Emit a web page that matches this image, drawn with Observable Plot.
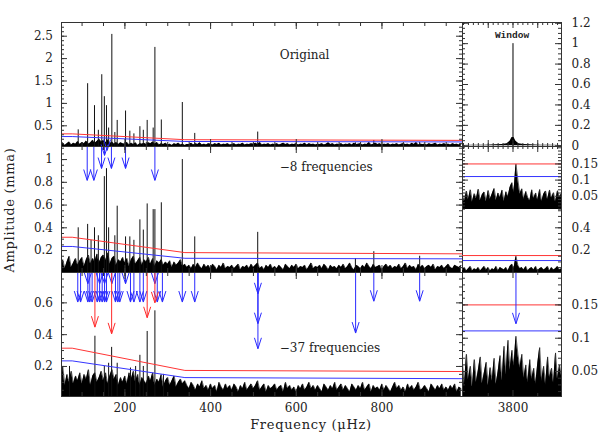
<!DOCTYPE html>
<html><head><meta charset="utf-8">
<script src="https://cdn.jsdelivr.net/npm/d3@7"></script>
<script src="https://cdn.jsdelivr.net/npm/@observablehq/plot@0.6"></script>
<style>
html,body{margin:0;padding:0;background:#fff;}
#fig{position:relative;width:598px;height:447px;overflow:hidden;background:#fff;}
#fig svg{position:absolute;overflow:visible;background:transparent;max-width:none;}
g[aria-label="panel-title"] text{letter-spacing:0.7px;}
</style></head><body><div id="fig"></div>
<script>
// ---------- data ----------
const leftFreq = [52, 988];          // µHz, left panels
const rightFreq = [3749, 3849];      // µHz, right panels

// noise profiles (left panels: start 50 µHz, step 5 µHz, units 0.01 mma)
const noiseTop = [8,12,6,10,14,7,11,9,15,8, 13,10,16,9,12,18,11,15,20,14, 17,12,19,10,14,9,13,8,12,10, 9,13,7,11,8,12,6,10,9,11, 8,12,10,14,9,13,7,10,8,11, 7,9,6,10,8,11,7,9,6,8,
 8,11,7,10,8,12,7,9,7,10, 9,7,10,8,11,7,9,8,10,7, 8,10,7,9,8,11,7,9,8,10, 9,11,8,13,7,9,8,10,7,9, 8,10,7,9,11,8,10,7,9,8, 10,7,9,8,11,7,10,8,9,7, 9,8,10,7,9,12,8,10,7,9,
 8,10,7,9,8,10,7,11,8,9, 10,7,9,8,13,7,9,11,8,10, 7,9,8,10,7,9,8,10,7,9, 10,8,9,7,11,8,13,7,9,8, 9,7,10,8,9,11,7,9,8,10, 8,9,7,10,8,9,7,10];
const noiseMid = [6,12,4,10,15,5,9,13,7,11, 14,6,12,16,8,13,10,17,9,14, 16,11,18,8,13,15,7,12,10,14, 9,13,6,12,15,8,11,14,7,12, 10,14,8,13,6,11,9,12,7,10, 8,11,5,10,7,9,12,6,8,5,
 7,4,8,5,9,6,4,8,5,7, 4,8,6,3,7,5,9,4,6,5, 7,4,6,8,3,6,5,7,4,8, 5,7,9,4,6,3,7,5,8,4, 6,4,7,5,3,8,6,4,7,5, 8,4,6,5,7,3,6,9,4,6, 5,7,4,8,6,3,7,5,6,4,
 7,5,8,4,6,9,5,3,7,6, 4,7,5,9,6,4,8,5,6,7, 3,6,8,5,7,4,6,5,8,4, 6,9,4,7,5,6,3,8,5,7, 4,6,7,5,8,3,6,5,7,4, 6,8,5,4,7,6,5,7];
const noiseBot = [12,20,8,15,10,17,9,14,11,16, 9,15,12,18,8,14,16,10,13,17, 11,16,9,14,18,12,15,8,13,10, 14,9,16,12,17,10,15,8,13,11, 9,14,11,16,8,12,10,15,7,11, 13,8,11,14,7,10,12,9,11,8,
 6,10,8,5,9,7,11,6,8,5, 9,6,8,4,10,7,5,9,6,8, 5,9,7,4,8,6,10,5,7,9, 6,8,11,5,7,9,4,8,6,7, 9,5,7,8,4,10,6,8,5,7, 4,8,6,9,5,7,10,6,8,5, 8,6,4,9,7,5,8,6,10,5,
 7,9,5,8,6,4,9,7,5,8, 6,10,5,7,9,4,8,6,7,5, 9,5,8,6,4,7,10,6,8,5, 7,4,9,6,8,5,7,10,5,6, 8,6,4,9,7,5,8,6,9,5, 7,5,8,6,9,4,7,6];

// right panels noise (start 3749 µHz, step 2 µHz)
const noiseInset = [52,34,66,40,70,32,58,42,72,36, 55,63,33,68,41,57,74,37,60,45, 69,34,64,48,77,92,62,150,100,56, 73,40,65,46,35,70,42,60,38,71, 33,56,66,39,69,44,61,32,67,47, 58]; // 0.001 mma
const noiseMidRight = [3,5,2,4,6,2,4,3,5,2, 4,6,3,5,2,4,3,6,2,5, 4,3,5,2,6,8,4,15,7,4, 5,3,6,2,4,5,3,6,2,4, 5,3,4,6,2,5,3,4,6,3, 4]; // 0.01 mma
const noiseBotRight = [62,30,76,38,58,27,68,34,52,72, 32,48,64,29,56,36,70,31,50,74, 36,88,45,97,52,82,58,103,76,55, 76,40,60,33,68,38,55,31,62,86, 35,58,30,72,40,55,33,78,38,60, 44]; // 0.001 mma

// window function
const windowFreq = [3749,3760,3772,3782,3789,3794,3797,3799,3800,3801,3803,3806,3811,3818,3828,3838,3849];
const windowAmp  = [0.004,0.006,0.005,0.01,0.012,0.02,0.045,0.08,0.08,0.08,0.045,0.02,0.012,0.01,0.005,0.006,0.004];
const windowPeak = [[3800, 1.0]];

// peaks [frequency µHz, amplitude mma]
const peaksTop = [[91,0.41],[113,1.44],[129,0.95],[138,0.40],[146,1.64],[152,1.15],[157,0.95],[162,0.45],[169.5,2.54],[176.5,0.35],[182,0.62],[201.5,0.83],[211.5,0.38],[221,0.32],[235,0.48],[243,0.40],[252,0.62],[266,0.45],[270,2.25],[285,0.63],[334,1.02],[363,0.33],[510,0.36],[738,0.12],[781,0.17],[888,0.13]];
const peaksMid = [[91,0.40],[113,0.43],[121,0.29],[129,0.40],[138,0.33],[152,0.85],[157,0.92],[162,0.40],[176.5,0.33],[182,0.59],[201.5,0.32],[211.5,0.32],[221,0.29],[235,0.47],[243,0.38],[252,0.61],[266,0.56],[270,0.56],[285,0.62],[334,1.00],[363,0.32],[510,0.36],[738,0.13],[781,0.19],[888,0.15]];
const peaksBot = [[70.7,0.20],[130,0.39],[152,0.20],[162,0.22],[169,0.32],[182,0.22],[213,0.19],[225,0.20],[235,0.27],[243,0.20],[252,0.42],[270,0.55],[290,0.15]];

// significance curves (knots)
const sigFreq = [52, 77, 340, 988];
const sigRedTop = [0.32,0.32,0.19,0.175], sigBlueTop = [0.26,0.26,0.15,0.14];
const sigRedMid = [0.317,0.317,0.182,0.171], sigBlueMid = [0.236,0.236,0.132,0.127];
const sigRedBot = [0.315,0.315,0.175,0.168], sigBlueBot = [0.235,0.235,0.13,0.123];
const sigRight = {insetRed: 0.15, insetBlue: 0.111, midRed: 0.156, midBlue: 0.112, botRed: 0.15, botBlue: 0.111};

// arrows [frequency, tip amplitude]
const arrowsMid = [[112,0.816],[127.5,0.816],[145.5,0.921],[152.5,1.036],[158.5,1.08],[168.5,0.921],[201.5,0.921],[270,0.816]];
const arrowsBotBlue = [[90,0.605],[96.5,0.605],[113.5,0.605],[118,0.605],[123.5,0.605],[135.5,0.605],[141,0.605],[147,0.605],[152.5,0.605],[157,0.605],[178,0.605],[183.5,0.605],[188,0.605],[213,0.605],[221,0.605],[235,0.605],[243,0.605],[275.5,0.605],[287.5,0.605],[334,0.605],[363,0.605],
 [113.5,0.72],[141,0.72],[152.5,0.72],[169.5,0.72],[201.5,0.72],[270,0.72],
 [510.5,0.657],[510.5,0.469],[510.5,0.311],[738.5,0.41],[781,0.61],[888,0.61]];
const arrowsBotRed = [[130,0.447],[169,0.405],[252,0.506],[270,0.60]];
const arrowsRight = [[3803,0.1216]];

// tick labels
const yLabTop = [0.5,1,1.5,2,2.5], yLabMid = [0.2,0.4,0.6,0.8,1], yLabBot = [0.2,0.4,0.6];
const yLabWindow = [0,0.2,0.4,0.6,0.8,1,1.2], yLabInset = [0.05,0.1,0.15], yLabMidRight = [0.2,0.4], yLabBotRight = [0.05,0.1,0.15];
const xLabLeft = [200,400,600,800], xLabRight = [3800];

// ---------- drawing ----------
const AX = "#333", RED = "#ff3535", BLUE = "#3535ff", AR_BLUE = "#2a2aff", AR_RED = "#ff2a2a";
const FONT = '"DejaVu Serif", "Liberation Serif", serif';
const fig = document.getElementById("fig");
const V = {draw(ctx) { ctx.moveTo(-3.5, -11); ctx.lineTo(0, 0); ctx.lineTo(3.5, -11); }};

const series = (start, step, vals, unit) => vals.map((v, i) => ({f: start + step * i, a: v * unit}));

function panel(left, top, w, h, xd, yd, marks) {
  const svg = Plot.plot({
    width: w, height: h, margin: 0,
    x: {domain: xd, axis: null}, y: {domain: yd, axis: null},
    style: {background: "transparent", overflow: "visible", fontFamily: FONT, fontSize: "12px", color: "#222"},
    marks: marks.flat(2)
  });
  svg.style.position = "absolute"; svg.style.left = left + "px"; svg.style.top = top + "px";
  fig.appendChild(svg);
}
function noise(data) {
  return [Plot.areaY(data, {x: "f", y: "a", fill: "#000", clip: true}),
          Plot.lineY(data, {x: "f", y: "a", stroke: "#000", strokeWidth: 0.6, clip: true})];
}
function peaks(list, y0) {
  return Plot.ruleX(list, {x: d => d[0], y1: y0, y2: d => d[1], stroke: "#111", strokeWidth: 1, clip: true});
}
function sig(vals, color) {
  return Plot.line(sigFreq.map((f, i) => [f, vals[i]]), {x: d => d[0], y: d => d[1], stroke: color, strokeWidth: 1, clip: true});
}
function arrows(list, yTop, color) {
  return [Plot.ruleX(list, {x: d => d[0], y1: yTop, y2: d => d[1], stroke: color, strokeWidth: 1}),
          Plot.dot(list, {x: d => d[0], y: d => d[1], symbol: V, r: 4, fill: "none", stroke: color, strokeWidth: 1})];
}
function ticks(w, h, o) {
  const m = [];
  const add = (vals, len, s) => {
    if (!vals || !vals.length) return;
    if (s === "b") m.push(Plot.ruleX(vals, {insetTop: h - len, stroke: AX}));
    if (s === "t") m.push(Plot.ruleX(vals, {insetBottom: h - len, stroke: AX}));
    if (s === "l") m.push(Plot.ruleY(vals, {insetRight: w - len, stroke: AX}));
    if (s === "r") m.push(Plot.ruleY(vals, {insetLeft: w - len, stroke: AX}));
  };
  for (const s of o.sides) {
    if (s === "b" || s === "t") { add(o.xMaj, o.xL[0], s); add(o.xMin, o.xL[1], s); }
    else { add(o.yMaj, o.yL[0], s); add(o.yMin, o.yL[1], s); }
  }
  return m;
}
const axL = t => Plot.axisY({anchor: "left", ticks: t, tickSize: 0, tickPadding: 8.5, tickFormat: String, label: null});
const axR = t => Plot.axisY({anchor: "right", ticks: t, tickSize: 0, tickPadding: 10, tickFormat: String, label: null});
const axB = t => Plot.axisX({anchor: "bottom", ticks: t, tickSize: 0, tickPadding: 6.5, tickFormat: String, label: null});
const title = (s, dx, dy) => Plot.text([s], {text: d => d, frameAnchor: "top-left", dx, dy, textAnchor: "start", lineAnchor: "top", fontSize: 12, fontFamily: FONT, fill: "#222", ariaLabel: "panel-title"});

const xMajL = [200,400,600,800], xMinL = d3.range(100, 988, 50);
const xMajR = [3775,3800,3825], xMinR = d3.range(3750, 3849, 5);

// top-left: Original
const yTL = [0.038, 2.806];
panel(61, 22, 401, 124, leftFreq, yTL, [
  noise(series(50, 5, noiseTop, 0.01)), peaks(peaksTop, yTL[0]),
  sig(sigRedTop, RED), sig(sigBlueTop, BLUE),
  Plot.frame({stroke: AX}),
  ticks(401, 124, {sides: "tblr", xMaj: xMajL, xMin: xMinL, xL: [7,4], yMaj: yLabTop, yMin: d3.range(0.1, 2.8, 0.1), yL: [6,3]}),
  axL(yLabTop), title("Original", 218.3, 28)
]);

// top-right: Window
const yTR = [-0.007, 1.207];
panel(462, 22, 99, 124, rightFreq, yTR, [
  Plot.areaY(windowFreq.map((f, i) => ({f, a: windowAmp[i]})), {x: "f", y: "a", fill: "#000", clip: true}),
  Plot.ruleX(windowPeak, {x: d => d[0], y1: 0, y2: d => d[1], stroke: "#000", strokeWidth: 1}),
  Plot.frame({stroke: AX}),
  ticks(99, 124, {sides: "tblr", xMaj: xMajR, xMin: xMinR, xL: [6,3], yMaj: yLabWindow, yMin: d3.range(0, 1.21, 0.05), yL: [6,3]}),
  axR(yLabWindow),
  Plot.text(["Window"], {text: d => d, frameAnchor: "top", dy: 8.7, lineAnchor: "top", fontSize: 9.5, fontWeight: "bold", fontFamily: '"Liberation Mono", "DejaVu Sans Mono", monospace', fill: "#222"})
]);

// middle-left: -8 frequencies
const yML = [0.007, 1.115];
panel(61, 146, 401, 126, leftFreq, yML, [
  noise(series(50, 5, noiseMid, 0.01)), peaks(peaksMid, yML[0]),
  sig(sigRedMid, RED), sig(sigBlueMid, BLUE),
  arrows(arrowsMid, yML[1], AR_BLUE),
  Plot.frame({stroke: AX}),
  ticks(401, 126, {sides: "tblr", xMaj: xMajL, xMin: xMinL, xL: [7,4], yMaj: yLabMid, yMin: d3.range(0.05, 1.11, 0.05), yL: [6,3]}),
  axL(yLabMid), title("\u22128 frequencies", 218.3, 15.7)
]);

// middle-right inset
const yIn = [0.009, 0.204];
panel(462, 146, 99, 63, rightFreq, yIn, [
  noise(series(3749, 2, noiseInset, 0.001)),
  Plot.ruleY([sigRight.insetRed], {stroke: RED}), Plot.ruleY([sigRight.insetBlue], {stroke: BLUE}),
  Plot.ruleX([rightFreq[0], rightFreq[1]], {stroke: AX}), Plot.ruleY([yIn[1]], {stroke: AX}),
  ticks(99, 63, {sides: "tlr", xMaj: xMajR, xMin: xMinR, xL: [6,3], yMaj: yLabInset, yMin: d3.range(0.01, 0.205, 0.01), yL: [6,3]}),
  axR(yLabInset)
]);

// middle-right lower (same scale as middle-left)
const yMR = [0.007, 0.561];
panel(462, 209, 99, 63, rightFreq, yMR, [
  noise(series(3749, 2, noiseMidRight, 0.01)),
  Plot.ruleY([sigRight.midRed], {stroke: RED}), Plot.ruleY([sigRight.midBlue], {stroke: BLUE}),
  Plot.ruleX([rightFreq[0]], {stroke: AX, strokeDasharray: "1,2"}),
  Plot.ruleX([rightFreq[1]], {stroke: AX}),
  ticks(99, 63, {sides: "br", xMaj: [3800], xMin: [3775, 3825], xL: [6,3], yMaj: yLabMidRight, yMin: d3.range(0.05, 0.56, 0.05), yL: [6,3]}),
  axR(yLabMidRight)
]);

// bottom-left: -37 frequencies
const yBL = [0.011, 0.791];
panel(61, 272, 401, 124, leftFreq, yBL, [
  noise(series(50, 5, noiseBot, 0.01)), peaks(peaksBot, yBL[0]),
  sig(sigRedBot, RED), sig(sigBlueBot, BLUE),
  arrows(arrowsBotBlue, yBL[1], AR_BLUE), arrows(arrowsBotRed, yBL[1], AR_RED),
  Plot.frame({stroke: AX}),
  ticks(401, 124, {sides: "tblr", xMaj: xMajL, xMin: xMinL, xL: [7,4], yMaj: yLabBot, yMin: d3.range(0.05, 0.79, 0.05), yL: [6,3]}),
  axL(yLabBot), axB(xLabLeft), title("\u221237 frequencies", 218.3, 71.3)
]);

// bottom-right
const yBR = [0.0126, 0.1986];
panel(462, 272, 99, 124, rightFreq, yBR, [
  noise(series(3749, 2, noiseBotRight, 0.001)),
  Plot.ruleY([sigRight.botRed], {stroke: RED}), Plot.ruleY([sigRight.botBlue], {stroke: BLUE}),
  arrows(arrowsRight, yBR[1], AR_BLUE),
  Plot.frame({stroke: AX}),
  ticks(99, 124, {sides: "tblr", xMaj: [3800], xMin: [3775, 3825], xL: [6,3], yMaj: yLabBotRight, yMin: d3.range(0.02, 0.199, 0.01), yL: [6,3]}),
  axR(yLabBotRight), axB(xLabRight)
]);

// axis titles
const ov = d3.create("svg").attr("width", 598).attr("height", 447).style("left", "0px").style("top", "0px").style("pointer-events", "none");
ov.append("text").attr("x", 311).attr("y", 428.5).attr("text-anchor", "middle")
  .attr("font-family", FONT).attr("font-size", 13).attr("letter-spacing", "0.7px").attr("fill", "#222").text("Frequency (\u03bcHz)");
ov.append("text").attr("transform", "translate(13.5,210) rotate(-90)").attr("text-anchor", "middle")
  .attr("font-family", FONT).attr("font-size", 13).attr("letter-spacing", "0.7px").attr("fill", "#222").text("Amplitude (mma)");
fig.appendChild(ov.node());
</script></body></html>
